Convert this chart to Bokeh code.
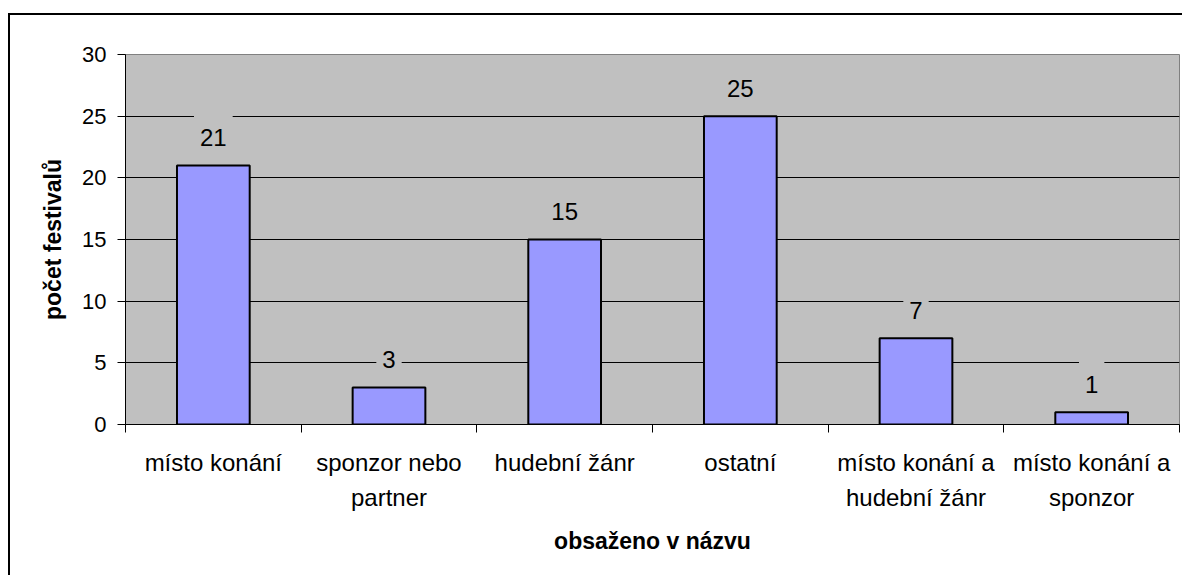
from bokeh.plotting import figure
from bokeh.models import ColumnDataSource, FixedTicker, Range1d
from bokeh.core.properties import value
from bokeh.embed import file_html
from bokeh.resources import INLINE

categories = ["místo konání", "sponzor nebo\npartner", "hudební žánr", "ostatní",
              "místo konání a\nhudební žánr", "místo konání a\nsponzor"]
values = [21, 3, 15, 25, 7, 1]
y_ticks = [0, 5, 10, 15, 20, 25, 30]
x_title = "obsaženo v názvu"
y_title = "počet festivalů"

FONT = "Liberation Sans"
n = len(categories)
xpos = [i + 0.5 for i in range(n)]
src = ColumnDataSource(dict(x=xpos, top=values, label=[str(v) for v in values]))

p = figure(width=1174, height=562, x_range=Range1d(0, n), y_range=Range1d(0, 30),
           output_backend="svg", toolbar_location=None,
           min_border_left=115, min_border_right=5, min_border_top=39, min_border_bottom=153)
p.styles = {"border-left": "2px solid black", "border-top": "2px solid black",
            "margin-top": "13px", "margin-left": "8px"}

p.background_fill_color = "#C0C0C0"
p.border_fill_color = "white"
p.outline_line_color = "#808080"
p.outline_line_width = 1

p.xgrid.visible = False
p.ygrid.grid_line_color = "black"
p.ygrid.grid_line_width = 1

# y axis
p.yaxis.ticker = FixedTicker(ticks=y_ticks)
p.yaxis.major_tick_in = 0
p.yaxis.major_tick_out = 8
p.yaxis.minor_tick_out = 0
p.yaxis.minor_tick_in = 0
p.yaxis.axis_line_color = "black"
p.yaxis.major_tick_line_color = "black"
p.yaxis.major_label_standoff = 11
p.yaxis.major_label_text_font = FONT
p.yaxis.major_label_text_font_size = "22px"
p.yaxis.major_label_text_color = "black"
p.yaxis.axis_label = y_title
p.yaxis.axis_label_text_font = FONT
p.yaxis.axis_label_text_font_size = "23px"
p.yaxis.axis_label_text_font_style = "bold"
p.yaxis.axis_label_text_color = "black"
p.yaxis.axis_label_standoff = 13

# x axis
p.xaxis.ticker = FixedTicker(ticks=xpos, minor_ticks=list(range(n + 1)))
p.xaxis.major_label_overrides = {x: c for x, c in zip(xpos, categories)}
p.xaxis.major_tick_in = 0
p.xaxis.major_tick_out = 0
p.xaxis.minor_tick_in = 0
p.xaxis.minor_tick_out = 8
p.xaxis.minor_tick_line_color = "black"
p.xaxis.axis_line_color = "black"
p.xaxis.major_label_standoff = 16
p.xaxis.major_label_text_font = FONT
p.xaxis.major_label_text_font_size = "24px"
p.xaxis.major_label_text_color = "black"
p.xaxis.major_label_text_line_height = 1.3
p.xaxis.axis_label = x_title
p.xaxis.axis_label_text_font = FONT
p.xaxis.axis_label_text_font_size = "23px"
p.xaxis.axis_label_text_font_style = "bold"
p.xaxis.axis_label_text_color = "black"
p.xaxis.axis_label_standoff = 14

p.vbar(x="x", top="top", bottom=0, width=0.414, source=src,
       fill_color="#9999FF", line_color="black", line_width=2)

p.text(x="x", y="top", text="label", source=src, y_offset=-28,
       text_align="center", text_baseline="middle",
       text_font=value(FONT), text_font_size="24px", text_color="black",
       background_fill_color="#C0C0C0", padding=dict(x=6, y=14))

open("out.html", "w").write(file_html(p, INLINE))
